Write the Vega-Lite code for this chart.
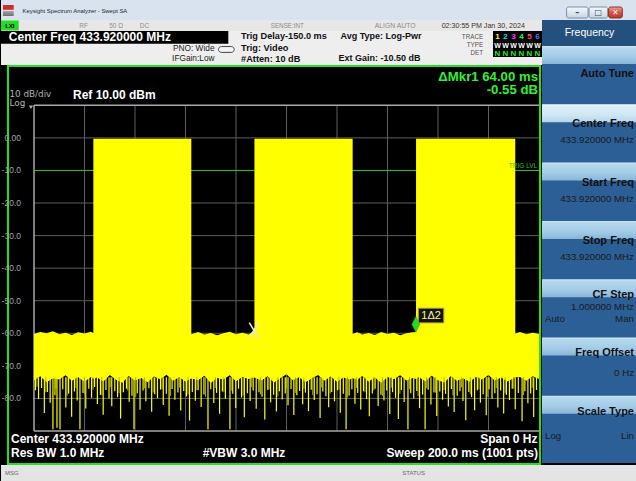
{
  "$schema": "https://vega.github.io/schema/vega-lite/v6.json",
  "padding": 0,
  "background": "#000000",
  "spacing": 0,
  "config": {"view": {"stroke": null}, "font": "Liberation Sans"},
  "datasets": {
    "env": [
      {"t":0,"top":-60.2,"bot":-74.5},{"t":2.5,"top":-59.6,"bot":-73.2},{"t":5,"top":-60.0,"bot":-75.0},{"t":7.5,"top":-59.4,"bot":-73.8},
      {"t":10,"top":-60.3,"bot":-74.2},{"t":12.5,"top":-59.8,"bot":-72.9},{"t":15,"top":-60.5,"bot":-74.6},{"t":17.5,"top":-59.7,"bot":-73.5},
      {"t":20,"top":-60.1,"bot":-74.9},{"t":22.5,"top":-59.5,"bot":-73.4},{"t":23.5,"top":-59.9,"bot":-74.0},{"t":23.51,"top":-0.3,"bot":-74.0},
      {"t":25,"top":-0.3,"bot":-73.6},{"t":27.5,"top":-0.3,"bot":-74.8},{"t":30,"top":-0.3,"bot":-72.8},{"t":32.5,"top":-0.3,"bot":-74.3},
      {"t":35,"top":-0.3,"bot":-75.2},{"t":37.5,"top":-0.3,"bot":-73.1},{"t":40,"top":-0.3,"bot":-74.5},{"t":42.5,"top":-0.3,"bot":-73.7},
      {"t":45,"top":-0.3,"bot":-75.0},{"t":47.5,"top":-0.3,"bot":-73.3},{"t":50,"top":-0.3,"bot":-74.1},{"t":52.5,"top":-0.3,"bot":-72.7},
      {"t":55,"top":-0.3,"bot":-74.6},{"t":57.5,"top":-0.3,"bot":-73.5},{"t":60,"top":-0.3,"bot":-74.8},{"t":62.3,"top":-0.3,"bot":-73.9},
      {"t":62.31,"top":-60.3,"bot":-73.9},{"t":65,"top":-59.6,"bot":-74.4},{"t":67.5,"top":-60.4,"bot":-73.0},{"t":70,"top":-59.9,"bot":-75.3},
      {"t":72.5,"top":-60.6,"bot":-73.7},{"t":75,"top":-60.0,"bot":-74.2},{"t":77.5,"top":-59.5,"bot":-72.9},{"t":80,"top":-60.3,"bot":-74.7},
      {"t":82.5,"top":-59.8,"bot":-73.4},{"t":85,"top":-60.4,"bot":-74.0},{"t":87.3,"top":-59.2,"bot":-73.6},{"t":87.31,"top":-0.3,"bot":-73.6},
      {"t":90,"top":-0.3,"bot":-74.5},{"t":92.5,"top":-0.3,"bot":-73.2},{"t":95,"top":-0.3,"bot":-75.1},{"t":97.5,"top":-0.3,"bot":-73.8},
      {"t":100,"top":-0.3,"bot":-72.6},{"t":102.5,"top":-0.3,"bot":-74.4},{"t":105,"top":-0.3,"bot":-73.5},{"t":107.5,"top":-0.3,"bot":-75.0},
      {"t":110,"top":-0.3,"bot":-73.9},{"t":112.5,"top":-0.3,"bot":-72.8},{"t":115,"top":-0.3,"bot":-74.6},{"t":117.5,"top":-0.3,"bot":-73.3},
      {"t":120,"top":-0.3,"bot":-74.9},{"t":122.5,"top":-0.3,"bot":-73.6},{"t":125,"top":-0.3,"bot":-74.2},{"t":126.2,"top":-0.3,"bot":-73.8},
      {"t":126.21,"top":-60.2,"bot":-73.8},{"t":128,"top":-59.7,"bot":-74.3},{"t":130,"top":-60.4,"bot":-73.1},{"t":132.5,"top":-59.9,"bot":-74.8},
      {"t":135,"top":-60.5,"bot":-73.6},{"t":137.5,"top":-59.6,"bot":-75.2},{"t":140,"top":-60.2,"bot":-73.4},{"t":142.5,"top":-59.8,"bot":-74.1},
      {"t":145,"top":-60.6,"bot":-72.9},{"t":147.5,"top":-60.0,"bot":-74.5},{"t":150,"top":-59.7,"bot":-73.7},{"t":151.3,"top":-59.6,"bot":-74.0},
      {"t":151.31,"top":-0.3,"bot":-74.0},{"t":152.5,"top":-0.3,"bot":-73.5},{"t":155,"top":-0.3,"bot":-74.7},{"t":157.5,"top":-0.3,"bot":-73.0},
      {"t":160,"top":-0.3,"bot":-74.4},{"t":162.5,"top":-0.3,"bot":-75.1},{"t":165,"top":-0.3,"bot":-73.2},{"t":167.5,"top":-0.3,"bot":-74.6},
      {"t":170,"top":-0.3,"bot":-73.8},{"t":172.5,"top":-0.3,"bot":-74.9},{"t":175,"top":-0.3,"bot":-73.4},{"t":177.5,"top":-0.3,"bot":-74.2},
      {"t":180,"top":-0.3,"bot":-72.8},{"t":182.5,"top":-0.3,"bot":-74.5},{"t":185,"top":-0.3,"bot":-73.6},{"t":187.5,"top":-0.3,"bot":-74.8},
      {"t":190.6,"top":-0.3,"bot":-73.5},{"t":190.61,"top":-60.1,"bot":-73.5},{"t":192.5,"top":-59.6,"bot":-73.4},{"t":195,"top":-60.3,"bot":-74.6},
      {"t":197.5,"top":-59.8,"bot":-73.2},{"t":200,"top":-60.2,"bot":-74.0}
    ],
    "spikes": [
      {"t":0.6,"lo":-77.5},{"t":1.8,"lo":-80.2},{"t":3.0,"lo":-76.8},{"t":4.1,"lo":-84.5},{"t":5.3,"lo":-78.0},{"t":6.4,"lo":-81.3},
      {"t":7.5,"lo":-89.5},{"t":8.3,"lo":-79.0},{"t":9.1,"lo":-89.0},{"t":10.3,"lo":-89.5},{"t":11.4,"lo":-77.2},{"t":12.6,"lo":-82.8},
      {"t":13.7,"lo":-78.5},{"t":14.9,"lo":-85.6},{"t":16.0,"lo":-77.9},{"t":17.1,"lo":-80.6},{"t":18.2,"lo":-89.5},{"t":19.4,"lo":-78.3},
      {"t":20.5,"lo":-83.1},{"t":21.7,"lo":-77.0},{"t":22.8,"lo":-79.8},{"t":24.0,"lo":-76.5},{"t":25.1,"lo":-81.7},{"t":26.3,"lo":-78.9},
      {"t":27.4,"lo":-85.0},{"t":28.5,"lo":-77.4},{"t":29.7,"lo":-80.0},{"t":30.8,"lo":-82.4},{"t":32.0,"lo":-77.8},{"t":33.1,"lo":-79.6},
      {"t":34.3,"lo":-86.2},{"t":35.4,"lo":-78.1},{"t":36.6,"lo":-77.0},{"t":37.7,"lo":-81.0},{"t":38.8,"lo":-79.2},{"t":39.6,"lo":-89.5},
      {"t":40.9,"lo":-78.4},{"t":42.0,"lo":-83.5},{"t":43.2,"lo":-77.6},{"t":44.3,"lo":-80.9},{"t":45.5,"lo":-76.9},{"t":46.6,"lo":-84.1},
      {"t":47.8,"lo":-78.7},{"t":48.9,"lo":-79.9},{"t":50.1,"lo":-77.3},{"t":51.2,"lo":-82.0},{"t":52.4,"lo":-78.6},{"t":53.5,"lo":-85.3},
      {"t":54.7,"lo":-77.1},{"t":55.8,"lo":-80.4},{"t":57.0,"lo":-78.2},{"t":58.1,"lo":-83.7},{"t":59.3,"lo":-77.7},{"t":60.4,"lo":-79.4},
      {"t":61.6,"lo":-86.8},{"t":62.7,"lo":-78.0},{"t":63.9,"lo":-80.7},{"t":65.0,"lo":-77.5},{"t":66.2,"lo":-82.6},{"t":67.3,"lo":-78.8},
      {"t":68.9,"lo":-89.5},{"t":70.0,"lo":-77.2},{"t":71.2,"lo":-81.4},{"t":72.3,"lo":-78.3},{"t":73.5,"lo":-84.7},{"t":74.6,"lo":-77.9},
      {"t":75.8,"lo":-80.1},{"t":77.6,"lo":-89.5},{"t":78.7,"lo":-78.6},{"t":79.9,"lo":-82.9},{"t":81.0,"lo":-77.0},{"t":82.2,"lo":-79.7},
      {"t":83.3,"lo":-85.8},{"t":84.5,"lo":-78.4},{"t":85.6,"lo":-80.8},{"t":86.8,"lo":-77.6},{"t":88.0,"lo":-83.2},{"t":89.1,"lo":-78.1},
      {"t":90.3,"lo":-79.5},{"t":91.4,"lo":-86.5},{"t":92.6,"lo":-77.4},{"t":93.7,"lo":-81.2},{"t":94.9,"lo":-78.9},{"t":96.0,"lo":-84.0},
      {"t":97.2,"lo":-77.8},{"t":98.3,"lo":-80.3},{"t":99.5,"lo":-78.5},{"t":100.6,"lo":-82.1},{"t":101.8,"lo":-77.1},{"t":102.9,"lo":-85.1},
      {"t":104.1,"lo":-79.0},{"t":105.2,"lo":-77.7},{"t":106.4,"lo":-81.8},{"t":107.5,"lo":-78.2},{"t":108.7,"lo":-83.9},{"t":109.8,"lo":-77.3},
      {"t":111.0,"lo":-80.5},{"t":112.1,"lo":-78.7},{"t":113.3,"lo":-86.0},{"t":114.4,"lo":-77.9},{"t":115.6,"lo":-79.3},{"t":116.7,"lo":-82.7},
      {"t":117.9,"lo":-78.0},{"t":119.0,"lo":-80.9},{"t":120.2,"lo":-77.5},{"t":121.3,"lo":-84.4},{"t":122.5,"lo":-78.6},{"t":123.6,"lo":-89.5},
      {"t":124.8,"lo":-79.1},{"t":125.9,"lo":-77.2},{"t":127.1,"lo":-81.6},{"t":128.2,"lo":-78.3},{"t":129.4,"lo":-83.4},{"t":130.5,"lo":-77.8},
      {"t":131.7,"lo":-80.2},{"t":132.8,"lo":-85.5},{"t":134.0,"lo":-78.5},{"t":135.1,"lo":-77.0},{"t":136.3,"lo":-82.3},{"t":137.4,"lo":-78.9},
      {"t":138.6,"lo":-80.6},{"t":139.7,"lo":-77.6},{"t":140.9,"lo":-84.8},{"t":142.0,"lo":-78.1},{"t":143.2,"lo":-79.8},{"t":144.3,"lo":-86.3},
      {"t":145.5,"lo":-77.4},{"t":146.6,"lo":-81.1},{"t":148.1,"lo":-89.5},{"t":149.2,"lo":-78.4},{"t":150.4,"lo":-80.0},{"t":151.6,"lo":-77.7},
      {"t":152.7,"lo":-83.0},{"t":153.9,"lo":-78.8},{"t":154.9,"lo":-89.5},{"t":156.1,"lo":-77.3},{"t":157.2,"lo":-81.9},{"t":158.4,"lo":-78.2},
      {"t":159.5,"lo":-85.4},{"t":160.7,"lo":-77.9},{"t":161.8,"lo":-80.4},{"t":163.0,"lo":-78.6},{"t":164.1,"lo":-82.5},{"t":165.3,"lo":-77.1},
      {"t":166.4,"lo":-84.2},{"t":167.6,"lo":-79.2},{"t":168.7,"lo":-77.8},{"t":169.9,"lo":-80.8},{"t":171.0,"lo":-86.7},{"t":172.2,"lo":-78.0},
      {"t":173.3,"lo":-79.6},{"t":174.5,"lo":-83.6},{"t":175.6,"lo":-77.5},{"t":176.8,"lo":-81.3},{"t":177.9,"lo":-78.7},{"t":179.1,"lo":-85.2},
      {"t":180.2,"lo":-77.2},{"t":181.4,"lo":-80.1},{"t":182.5,"lo":-78.4},{"t":183.7,"lo":-82.8},{"t":184.8,"lo":-77.6},{"t":186.0,"lo":-84.6},
      {"t":187.1,"lo":-78.9},{"t":188.3,"lo":-80.5},{"t":189.4,"lo":-77.0},{"t":190.6,"lo":-83.3},{"t":191.8,"lo":-78.3},{"t":193.3,"lo":-87.0},
      {"t":194.4,"lo":-77.8},{"t":195.6,"lo":-81.5},{"t":196.7,"lo":-78.5},{"t":197.9,"lo":-85.7},{"t":199.0,"lo":-77.4}
    ],
    "dimSpikes": [
      {"t":1.2,"lo":-76.4},{"t":4.7,"lo":-78.1},{"t":8.7,"lo":-77.0},{"t":13.1,"lo":-79.3},{"t":16.6,"lo":-76.8},{"t":20.0,"lo":-78.6},
      {"t":23.4,"lo":-77.3},{"t":26.9,"lo":-79.0},{"t":30.2,"lo":-76.6},{"t":33.7,"lo":-78.4},{"t":37.1,"lo":-77.5},{"t":40.3,"lo":-79.6},
      {"t":43.8,"lo":-76.9},{"t":47.2,"lo":-78.2},{"t":50.7,"lo":-77.1},{"t":54.1,"lo":-79.2},{"t":57.6,"lo":-76.7},{"t":61.0,"lo":-78.8},
      {"t":64.5,"lo":-77.4},{"t":67.9,"lo":-79.5},{"t":71.8,"lo":-76.8},{"t":75.2,"lo":-78.0},{"t":78.1,"lo":-77.6},{"t":82.8,"lo":-79.1},
      {"t":86.2,"lo":-76.5},{"t":89.7,"lo":-78.7},{"t":93.1,"lo":-77.2},{"t":96.6,"lo":-79.4},{"t":100.0,"lo":-76.9},{"t":103.5,"lo":-78.3},
      {"t":106.9,"lo":-77.0},{"t":110.4,"lo":-79.0},{"t":113.9,"lo":-76.6},{"t":117.3,"lo":-78.5},{"t":120.8,"lo":-77.3},{"t":124.2,"lo":-79.7},
      {"t":127.7,"lo":-76.8},{"t":131.1,"lo":-78.1},{"t":134.6,"lo":-77.5},{"t":138.0,"lo":-79.2},{"t":141.5,"lo":-76.7},{"t":144.9,"lo":-78.6},
      {"t":148.7,"lo":-77.1},{"t":152.1,"lo":-79.3},{"t":155.5,"lo":-76.9},{"t":159.0,"lo":-78.2},{"t":162.4,"lo":-77.4},{"t":165.9,"lo":-79.1},
      {"t":169.3,"lo":-76.6},{"t":172.8,"lo":-78.7},{"t":176.2,"lo":-77.2},{"t":179.7,"lo":-79.5},{"t":183.1,"lo":-76.8},{"t":186.6,"lo":-78.4},
      {"t":190.0,"lo":-77.0},{"t":193.9,"lo":-79.0},{"t":197.3,"lo":-76.7}
    ],
    "gx": [{"t":20},{"t":40},{"t":60},{"t":80},{"t":100},{"t":120},{"t":140},{"t":160},{"t":180}],
    "gy": [{"v":0,"label":"0.00"},{"v":-10,"label":"-10.0"},{"v":-20,"label":"-20.0"},{"v":-30,"label":"-30.0"},{"v":-40,"label":"-40.0"},{"v":-50,"label":"-50.0"},{"v":-60,"label":"-60.0"},{"v":-70,"label":"-70.0"},{"v":-80,"label":"-80.0"}],
    "markers": [{"mkr":"2","t":87.1,"v":-59.1},{"mkr":"1","t":151.2,"v":-59.65}],
    "traces": [{"tr":"1"},{"tr":"2"},{"tr":"3"},{"tr":"4"},{"tr":"5"},{"tr":"6"}],
    "keys": [{"key":"Auto Tune"},{"key":"Center Freq"},{"key":"Start Freq"},{"key":"Stop Freq"},{"key":"CF Step"},{"key":"Freq Offset"},{"key":"Scale Type"}],
    "menuText": [
      {"key":"Auto Tune","line":"7","side":"right","kind":"title","txt":"Auto Tune"},
      {"key":"Center Freq","line":"5","side":"right","kind":"title","txt":"Center Freq"},
      {"key":"Center Freq","line":"9","side":"right","kind":"value","txt":"433.920000 MHz"},
      {"key":"Start Freq","line":"5","side":"right","kind":"title","txt":"Start Freq"},
      {"key":"Start Freq","line":"9","side":"right","kind":"value","txt":"433.920000 MHz"},
      {"key":"Stop Freq","line":"5","side":"right","kind":"title","txt":"Stop Freq"},
      {"key":"Stop Freq","line":"9","side":"right","kind":"value","txt":"433.920000 MHz"},
      {"key":"CF Step","line":"4","side":"right","kind":"title","txt":"CF Step"},
      {"key":"CF Step","line":"7","side":"right","kind":"value","txt":"1.000000 MHz"},
      {"key":"CF Step","line":"10","side":"left","kind":"value","txt":"Auto"},
      {"key":"CF Step","line":"10","side":"right","kind":"value","txt":"Man"},
      {"key":"Freq Offset","line":"4","side":"right","kind":"title","txt":"Freq Offset"},
      {"key":"Freq Offset","line":"9","side":"right","kind":"value","txt":"0 Hz"},
      {"key":"Scale Type","line":"4","side":"right","kind":"title","txt":"Scale Type"},
      {"key":"Scale Type","line":"10","side":"left","kind":"value","txt":"Log"},
      {"key":"Scale Type","line":"10","side":"right","kind":"value","txt":"Lin"}
    ]
  },
  "vconcat": [
    {
      "width": 636, "height": 20,
      "view": {"fill": "#d8e3ef"},
      "data": {"values": [{}]},
      "layer": [
        {"mark": {"type": "rect", "fill": {"gradient": "linear", "x1": 0, "y1": 0, "x2": 0, "y2": 1, "stops": [{"offset": 0, "color": "#c9302c"}, {"offset": 0.4, "color": "#c9302c"}, {"offset": 0.45, "color": "#ffffff"}, {"offset": 0.6, "color": "#a0a0a0"}, {"offset": 1, "color": "#707070"}]}},
         "encoding": {"x": {"datum": 2, "type": "quantitative", "scale": {"domain": [0, 636]}, "axis": null}, "x2": {"datum": 13},
                      "y": {"datum": 5, "type": "quantitative", "scale": {"domain": [0, 20], "reverse": true}, "axis": null}, "y2": {"datum": 16}}},
        {"mark": {"type": "text", "align": "left", "baseline": "middle", "fontSize": 5.9, "color": "#1e1e1e"},
         "encoding": {"x": {"datum": 22, "type": "quantitative", "axis": null}, "y": {"datum": 10.5, "type": "quantitative", "axis": null}, "text": {"value": "Keysight Spectrum Analyzer - Swept SA"}}},
        {"mark": {"type": "rect", "cornerRadius": 2, "stroke": "#7b8ca3", "strokeWidth": 1, "fill": {"gradient": "linear", "x1": 0, "y1": 0, "x2": 0, "y2": 1, "stops": [{"offset": 0, "color": "#f5f8fb"}, {"offset": 1, "color": "#c9d5e3"}]}},
         "encoding": {"x": {"datum": 578, "type": "quantitative", "axis": null}, "x2": {"datum": 600}, "y": {"datum": 7, "type": "quantitative", "axis": null}, "y2": {"datum": 18}}},
        {"mark": {"type": "rect", "cornerRadius": 2, "stroke": "#7b8ca3", "strokeWidth": 1, "fill": {"gradient": "linear", "x1": 0, "y1": 0, "x2": 0, "y2": 1, "stops": [{"offset": 0, "color": "#f5f8fb"}, {"offset": 1, "color": "#c9d5e3"}]}},
         "encoding": {"x": {"datum": 601, "type": "quantitative", "axis": null}, "x2": {"datum": 620}, "y": {"datum": 7, "type": "quantitative", "axis": null}, "y2": {"datum": 18}}},
        {"mark": {"type": "rect", "cornerRadius": 2, "stroke": "#8c2e26", "strokeWidth": 1, "fill": {"gradient": "linear", "x1": 0, "y1": 0, "x2": 0, "y2": 1, "stops": [{"offset": 0, "color": "#e9a397"}, {"offset": 0.5, "color": "#d0574a"}, {"offset": 1, "color": "#b8382c"}]}},
         "encoding": {"x": {"datum": 621, "type": "quantitative", "axis": null}, "x2": {"datum": 635}, "y": {"datum": 7, "type": "quantitative", "axis": null}, "y2": {"datum": 18}}},
        {"mark": {"type": "text", "align": "center", "baseline": "middle", "fontSize": 8, "font": "DejaVu Sans", "fontWeight": "bold", "color": "#3a4a5e"},
         "encoding": {"x": {"datum": 589, "type": "quantitative", "axis": null}, "y": {"datum": 13, "type": "quantitative", "axis": null}, "text": {"value": "–"}}},
        {"mark": {"type": "text", "align": "center", "baseline": "middle", "fontSize": 8, "font": "DejaVu Sans", "color": "#3a4a5e"},
         "encoding": {"x": {"datum": 610.5, "type": "quantitative", "axis": null}, "y": {"datum": 12.5, "type": "quantitative", "axis": null}, "text": {"value": "□"}}},
        {"mark": {"type": "text", "align": "center", "baseline": "middle", "fontSize": 7.5, "font": "DejaVu Sans", "fontWeight": "bold", "color": "#ffffff"},
         "encoding": {"x": {"datum": 628, "type": "quantitative", "axis": null}, "y": {"datum": 12.5, "type": "quantitative", "axis": null}, "text": {"value": "✕"}}}
      ]
    },
    {
      "spacing": 0,
      "hconcat": [
        {
          "spacing": 0,
          "vconcat": [
            {
              "width": 541, "height": 11,
              "view": {"fill": "#e7e7e7"},
              "data": {"values": [{}]},
              "layer": [
                {"mark": {"type": "rect", "fill": "#22dd22"},
                 "encoding": {"x": {"datum": 0, "type": "quantitative", "scale": {"domain": [0, 541]},
                                    "axis": {"values": [58, 108, 160, 210, 310, 362, 445], "grid": true, "gridColor": "#b5b5b5", "gridWidth": 1, "labels": false, "ticks": false, "domain": false, "title": null}},
                              "x2": {"datum": 18},
                              "y": {"datum": 0.5, "type": "quantitative", "scale": {"domain": [0, 11], "reverse": true}, "axis": null}, "y2": {"datum": 10.5}}},
                {"mark": {"type": "text", "align": "center", "baseline": "middle", "fontSize": 6, "fontWeight": "bold", "color": "#000000"},
                 "encoding": {"x": {"datum": 9, "type": "quantitative", "axis": null}, "y": {"datum": 5.5, "type": "quantitative", "axis": null}, "text": {"value": "LXI"}}},
                {"mark": {"type": "text", "align": "center", "baseline": "middle", "fontSize": 6.5, "color": "#8c8c8c"},
                 "encoding": {"x": {"datum": 84, "type": "quantitative", "axis": null}, "y": {"datum": 5.5, "type": "quantitative", "axis": null}, "text": {"value": "RF"}}},
                {"mark": {"type": "text", "align": "left", "baseline": "middle", "fontSize": 6.5, "color": "#8c8c8c"},
                 "encoding": {"x": {"datum": 110, "type": "quantitative", "axis": null}, "y": {"datum": 5.5, "type": "quantitative", "axis": null}, "text": {"value": "50 Ω"}}},
                {"mark": {"type": "text", "align": "left", "baseline": "middle", "fontSize": 6.5, "color": "#8c8c8c"},
                 "encoding": {"x": {"datum": 141, "type": "quantitative", "axis": null}, "y": {"datum": 5.5, "type": "quantitative", "axis": null}, "text": {"value": "DC"}}},
                {"mark": {"type": "text", "align": "right", "baseline": "middle", "fontSize": 6.3, "color": "#8c8c8c"},
                 "encoding": {"x": {"datum": 308, "type": "quantitative", "axis": null}, "y": {"datum": 5.5, "type": "quantitative", "axis": null}, "text": {"value": "SENSE:INT"}}},
                {"mark": {"type": "text", "align": "left", "baseline": "middle", "fontSize": 6.8, "color": "#8c8c8c"},
                 "encoding": {"x": {"datum": 380, "type": "quantitative", "axis": null}, "y": {"datum": 5.5, "type": "quantitative", "axis": null}, "text": {"value": "ALIGN AUTO"}}},
                {"mark": {"type": "text", "align": "left", "baseline": "middle", "fontSize": 7.1, "color": "#333333"},
                 "encoding": {"x": {"datum": 448, "type": "quantitative", "axis": null}, "y": {"datum": 5.5, "type": "quantitative", "axis": null}, "text": {"value": "02:30:55 PM Jan 30, 2024"}}}
              ]
            },
            {
              "spacing": 0,
              "hconcat": [
                {
                  "width": 492, "height": 34,
                  "view": {"fill": "#eeeeee"},
                  "data": {"values": [{}]},
                  "layer": [
                    {"mark": {"type": "rect", "fill": "#000000"},
                     "encoding": {"x": {"datum": 0, "type": "quantitative", "scale": {"domain": [0, 492]}, "axis": null}, "x2": {"datum": 231},
                                  "y": {"datum": 0, "type": "quantitative", "scale": {"domain": [0, 34], "reverse": true}, "axis": null}, "y2": {"datum": 13}}},
                    {"mark": {"type": "text", "align": "left", "baseline": "middle", "fontSize": 12, "fontWeight": "bold", "color": "#ffffff"},
                     "encoding": {"x": {"datum": 8, "type": "quantitative", "axis": null}, "y": {"datum": 6.5, "type": "quantitative", "axis": null}, "text": {"value": "Center Freq 433.920000 MHz"}}},
                    {"mark": {"type": "text", "align": "right", "baseline": "middle", "fontSize": 8.3, "color": "#1a1a1a"},
                     "encoding": {"x": {"datum": 217, "type": "quantitative", "axis": null}, "y": {"datum": 19, "type": "quantitative", "axis": null}, "text": {"value": "PNO: Wide"}}},
                    {"mark": {"type": "text", "align": "right", "baseline": "middle", "fontSize": 8.3, "color": "#1a1a1a"},
                     "encoding": {"x": {"datum": 217, "type": "quantitative", "axis": null}, "y": {"datum": 29, "type": "quantitative", "axis": null}, "text": {"value": "IFGain:Low"}}},
                    {"mark": {"type": "rect", "fill": "#f4f4f4", "stroke": "#444444", "strokeWidth": 1, "cornerRadius": 3},
                     "encoding": {"x": {"datum": 221, "type": "quantitative", "axis": null}, "x2": {"datum": 237}, "y": {"datum": 16, "type": "quantitative", "axis": null}, "y2": {"datum": 22}}},
                    {"mark": {"type": "text", "align": "left", "baseline": "middle", "fontSize": 9.2, "fontWeight": "bold", "color": "#111111"},
                     "encoding": {"x": {"datum": 244, "type": "quantitative", "axis": null}, "y": {"datum": 5, "type": "quantitative", "axis": null}, "text": {"value": "Trig Delay-150.0 ms"}}},
                    {"mark": {"type": "text", "align": "left", "baseline": "middle", "fontSize": 9.2, "fontWeight": "bold", "color": "#111111"},
                     "encoding": {"x": {"datum": 244, "type": "quantitative", "axis": null}, "y": {"datum": 17, "type": "quantitative", "axis": null}, "text": {"value": "Trig: Video"}}},
                    {"mark": {"type": "text", "align": "left", "baseline": "middle", "fontSize": 9.2, "fontWeight": "bold", "color": "#111111"},
                     "encoding": {"x": {"datum": 244, "type": "quantitative", "axis": null}, "y": {"datum": 28.5, "type": "quantitative", "axis": null}, "text": {"value": "#Atten: 10 dB"}}},
                    {"mark": {"type": "text", "align": "left", "baseline": "middle", "fontSize": 9, "fontWeight": "bold", "color": "#111111"},
                     "encoding": {"x": {"datum": 345, "type": "quantitative", "axis": null}, "y": {"datum": 5, "type": "quantitative", "axis": null}, "text": {"value": "Avg Type: Log-Pwr"}}},
                    {"mark": {"type": "text", "align": "left", "baseline": "middle", "fontSize": 9, "fontWeight": "bold", "color": "#111111"},
                     "encoding": {"x": {"datum": 343, "type": "quantitative", "axis": null}, "y": {"datum": 28, "type": "quantitative", "axis": null}, "text": {"value": "Ext Gain: -10.50 dB"}}},
                    {"mark": {"type": "text", "align": "right", "baseline": "middle", "fontSize": 6.3, "color": "#555555"},
                     "encoding": {"x": {"datum": 490, "type": "quantitative", "axis": null}, "y": {"datum": 6, "type": "quantitative", "axis": null}, "text": {"value": "TRACE"}}},
                    {"mark": {"type": "text", "align": "right", "baseline": "middle", "fontSize": 6.3, "color": "#555555"},
                     "encoding": {"x": {"datum": 490, "type": "quantitative", "axis": null}, "y": {"datum": 14.5, "type": "quantitative", "axis": null}, "text": {"value": "TYPE"}}},
                    {"mark": {"type": "text", "align": "right", "baseline": "middle", "fontSize": 6.3, "color": "#555555"},
                     "encoding": {"x": {"datum": 490, "type": "quantitative", "axis": null}, "y": {"datum": 23, "type": "quantitative", "axis": null}, "text": {"value": "DET"}}}
                  ]
                },
                {
                  "spacing": 0,
                  "bounds": "flush",
                  "vconcat": [
                    {
                      "width": 49, "height": 26,
                      "view": {"fill": "#000000"},
                      "data": {"name": "traces"},
                      "layer": [
                        {"mark": {"type": "text", "align": "center", "baseline": "middle", "fontSize": 8, "fontWeight": "bold"},
                         "encoding": {"x": {"field": "tr", "type": "nominal", "scale": {"type": "point", "padding": 0.5625}, "axis": null},
                                      "y": {"datum": "TRACE", "type": "nominal", "scale": {"type": "point", "domain": ["TRACE", "TYPE", "DET"], "padding": 0.529, "align": 0.667}, "axis": null},
                                      "color": {"field": "tr", "type": "nominal", "scale": {"domain": ["1", "2", "3", "4", "5", "6"], "range": ["#ffff00", "#00e5ff", "#ff33ff", "#33ff33", "#ff4f7f", "#6a6aff"]}, "legend": null},
                                      "text": {"field": "tr"}}},
                        {"mark": {"type": "text", "align": "center", "baseline": "middle", "fontSize": 7, "fontWeight": "bold", "color": "#ffffff"},
                         "encoding": {"x": {"field": "tr", "type": "nominal", "axis": null}, "y": {"datum": "TYPE", "type": "nominal", "axis": null}, "text": {"value": "W"}}},
                        {"mark": {"type": "text", "align": "center", "baseline": "middle", "fontSize": 8, "fontWeight": "bold", "color": "#22ee22"},
                         "encoding": {"x": {"field": "tr", "type": "nominal", "axis": null}, "y": {"datum": "DET", "type": "nominal", "axis": null}, "text": {"value": "N"}}}
                      ]
                    },
                    {
                      "width": 49, "height": 8,
                      "view": {"fill": "#eeeeee"},
                      "data": {"values": [{}]},
                      "mark": {"type": "rect", "opacity": 0},
                      "encoding": {}
                    }
                  ]
                }
              ]
            },
            {
              "spacing": 0,
              "bounds": "flush",
              "hconcat": [
                {
                  "width": 7, "height": 398,
                  "data": {"values": [{}]},
                  "mark": {"type": "rect", "opacity": 0},
                  "encoding": {}
                },
                {
                  "width": 532, "height": 398,
                  "view": {"fill": "#000000", "stroke": "#22e022", "strokeWidth": 2},
                  "data": {"values": [{}]},
                  "layer": [
                    {"data": {"name": "gx"}, "mark": {"type": "rule", "color": "#5e5e5e", "strokeWidth": 1},
                     "encoding": {"x": {"field": "t", "type": "quantitative", "scale": {"domain": [0, 200], "range": [26, 531], "nice": false, "zero": false}, "axis": null},
                                  "y": {"datum": -90, "type": "quantitative", "scale": {"domain": [-90, 10], "range": [365, 39.3], "nice": false, "zero": false}, "axis": null}, "y2": {"datum": 10}}},
                    {"data": {"name": "gy"}, "mark": {"type": "rule", "color": "#5e5e5e", "strokeWidth": 1},
                     "encoding": {"y": {"field": "v", "type": "quantitative", "axis": null},
                                  "x": {"datum": 0, "type": "quantitative", "axis": null}, "x2": {"datum": 200}}},
                    {"data": {"name": "gy"}, "mark": {"type": "text", "align": "right", "baseline": "middle", "fontSize": 8.5, "color": "#a6a6a6"},
                     "encoding": {"y": {"field": "v", "type": "quantitative", "axis": null},
                                  "x": {"datum": -5.15, "type": "quantitative", "axis": null}, "text": {"field": "label"}}},
                    {"mark": {"type": "rule", "color": "#a9a9a9", "strokeWidth": 1.5},
                     "encoding": {"x": {"datum": 0, "type": "quantitative", "axis": null}, "x2": {"datum": 200}, "y": {"datum": 10, "type": "quantitative", "axis": null}}},
                    {"mark": {"type": "rule", "color": "#a9a9a9", "strokeWidth": 1.5},
                     "encoding": {"x": {"datum": 0, "type": "quantitative", "axis": null}, "x2": {"datum": 200}, "y": {"datum": -90, "type": "quantitative", "axis": null}}},
                    {"mark": {"type": "rule", "color": "#a9a9a9", "strokeWidth": 1.5},
                     "encoding": {"x": {"datum": 0, "type": "quantitative", "axis": null}, "y": {"datum": -90, "type": "quantitative", "axis": null}, "y2": {"datum": 10}}},
                    {"mark": {"type": "rule", "color": "#2fbf2f", "strokeWidth": 1},
                     "encoding": {"x": {"datum": 0, "type": "quantitative", "axis": null}, "x2": {"datum": 200}, "y": {"datum": -10, "type": "quantitative", "axis": null}}},
                    {"data": {"name": "env"}, "mark": {"type": "area", "color": "#ffff00", "opacity": 1, "interpolate": "linear"},
                     "encoding": {"x": {"field": "t", "type": "quantitative", "axis": null}, "y": {"field": "top", "type": "quantitative", "axis": null}, "y2": {"field": "bot"}}},
                    {"data": {"name": "dimSpikes"}, "mark": {"type": "rule", "color": "#a8a82c", "strokeWidth": 1},
                     "encoding": {"x": {"field": "t", "type": "quantitative", "axis": null}, "y": {"field": "lo", "type": "quantitative", "axis": null}, "y2": {"datum": -73.5}}},
                    {"data": {"name": "spikes"}, "mark": {"type": "rule", "color": "#ffff00", "strokeWidth": 1.2},
                     "encoding": {"x": {"field": "t", "type": "quantitative", "axis": null}, "y": {"field": "lo", "type": "quantitative", "axis": null}, "y2": {"datum": -73.5}}},
                    {"data": {"name": "markers"}, "transform": [{"filter": "datum.mkr == '2'"}],
                     "mark": {"type": "point", "shape": "M-0.6,-1L0.6,1M0.6,-1L-0.6,1", "size": 243, "filled": false, "stroke": "#e6e6e6", "strokeWidth": 1.6, "opacity": 1},
                     "encoding": {"x": {"field": "t", "type": "quantitative", "axis": null}, "y": {"field": "v", "type": "quantitative", "axis": null}}},
                    {"data": {"name": "markers"}, "transform": [{"filter": "datum.mkr == '1'"}],
                     "mark": {"type": "point", "shape": "M0,0L-0.5,-1L0,-2L0.5,-1Z", "size": 246, "filled": true, "fill": "#22dd22", "stroke": "#129a12", "strokeWidth": 0.5, "opacity": 1},
                     "encoding": {"x": {"field": "t", "type": "quantitative", "axis": null}, "y": {"field": "v", "type": "quantitative", "axis": null}}},
                    {"mark": {"type": "rect", "fill": "#161600", "stroke": "#a59b5c", "strokeWidth": 1},
                     "encoding": {"x": {"datum": 152.2, "type": "quantitative", "axis": null}, "x2": {"datum": 162.3}, "y": {"datum": -52.3, "type": "quantitative", "axis": null}, "y2": {"datum": -56.8}}},
                    {"mark": {"type": "text", "align": "center", "baseline": "middle", "fontSize": 11, "color": "#f4f0c0"},
                     "encoding": {"x": {"datum": 157.25, "type": "quantitative", "axis": null}, "y": {"datum": -54.55, "type": "quantitative", "axis": null}, "text": {"value": "1Δ2"}}},
                    {"mark": {"type": "point", "shape": "triangle-down", "size": 18, "filled": true, "color": "#b0b0b0", "opacity": 1},
                     "encoding": {"x": {"datum": -1.2, "type": "quantitative", "axis": null}, "y": {"datum": 9.4, "type": "quantitative", "axis": null}}},
                    {"mark": {"type": "text", "align": "left", "baseline": "middle", "fontSize": 8.8, "font": "DejaVu Sans", "color": "#b4b4b4"},
                     "encoding": {"x": {"datum": -9.7, "type": "quantitative", "axis": null}, "y": {"datum": 13.35, "type": "quantitative", "axis": null}, "text": {"value": "10 dB/div"}}},
                    {"mark": {"type": "text", "align": "left", "baseline": "middle", "fontSize": 8.8, "font": "DejaVu Sans", "color": "#b4b4b4"},
                     "encoding": {"x": {"datum": -9.7, "type": "quantitative", "axis": null}, "y": {"datum": 10.7, "type": "quantitative", "axis": null}, "text": {"value": "Log"}}},
                    {"mark": {"type": "text", "align": "left", "baseline": "middle", "fontSize": 12, "fontWeight": "bold", "color": "#ffffff"},
                     "encoding": {"x": {"datum": 15.45, "type": "quantitative", "axis": null}, "y": {"datum": 13.3, "type": "quantitative", "axis": null}, "text": {"value": "Ref 10.00 dBm"}}},
                    {"mark": {"type": "text", "align": "right", "baseline": "middle", "fontSize": 13.2, "fontWeight": "bold", "color": "#33f033"},
                     "encoding": {"x": {"datum": 199.6, "type": "quantitative", "axis": null}, "y": {"datum": 18.8, "type": "quantitative", "axis": null}, "text": {"value": "ΔMkr1 64.00 ms"}}},
                    {"mark": {"type": "text", "align": "right", "baseline": "middle", "fontSize": 13.2, "fontWeight": "bold", "color": "#33f033"},
                     "encoding": {"x": {"datum": 199.6, "type": "quantitative", "axis": null}, "y": {"datum": 14.6, "type": "quantitative", "axis": null}, "text": {"value": "-0.55 dB"}}},
                    {"mark": {"type": "text", "align": "right", "baseline": "middle", "fontSize": 6.5, "color": "#2fbf2f"},
                     "encoding": {"x": {"datum": 199.3, "type": "quantitative", "axis": null}, "y": {"datum": -8.5, "type": "quantitative", "axis": null}, "text": {"value": "TRIG LVL"}}},
                    {"mark": {"type": "text", "align": "left", "baseline": "middle", "fontSize": 12, "fontWeight": "bold", "color": "#ffffff"},
                     "encoding": {"x": {"datum": -9.1, "type": "quantitative", "axis": null}, "y": {"datum": -92.6, "type": "quantitative", "axis": null}, "text": {"value": "Center 433.920000 MHz"}}},
                    {"mark": {"type": "text", "align": "left", "baseline": "middle", "fontSize": 12, "fontWeight": "bold", "color": "#ffffff"},
                     "encoding": {"x": {"datum": -9.1, "type": "quantitative", "axis": null}, "y": {"datum": -96.9, "type": "quantitative", "axis": null}, "text": {"value": "Res BW 1.0 MHz"}}},
                    {"mark": {"type": "text", "align": "left", "baseline": "middle", "fontSize": 12, "fontWeight": "bold", "color": "#ffffff"},
                     "encoding": {"x": {"datum": 66.8, "type": "quantitative", "axis": null}, "y": {"datum": -96.9, "type": "quantitative", "axis": null}, "text": {"value": "#VBW 3.0 MHz"}}},
                    {"mark": {"type": "text", "align": "right", "baseline": "middle", "fontSize": 12, "fontWeight": "bold", "color": "#ffffff"},
                     "encoding": {"x": {"datum": 199.4, "type": "quantitative", "axis": null}, "y": {"datum": -92.6, "type": "quantitative", "axis": null}, "text": {"value": "Span 0 Hz"}}},
                    {"mark": {"type": "text", "align": "right", "baseline": "middle", "fontSize": 12, "fontWeight": "bold", "color": "#ffffff"},
                     "encoding": {"x": {"datum": 199.6, "type": "quantitative", "axis": null}, "y": {"datum": -96.9, "type": "quantitative", "axis": null}, "text": {"value": "Sweep  200.0 ms (1001 pts)"}}}
                  ]
                }
              ]
            }
          ]
        },
        {
          "spacing": 0,
          "bounds": "flush",
          "vconcat": [
            {
              "width": 95, "height": 26,
              "view": {"fill": "#24507e"},
              "data": {"values": [{}]},
              "mark": {"type": "text", "align": "center", "baseline": "middle", "fontSize": 10.5, "color": "#ffffff"},
              "encoding": {"text": {"value": "Frequency"}}
            },
            {
              "width": 95, "height": 417,
              "view": {"fill": "#2c5f96"},
              "layer": [
                {"data": {"name": "keys"}, "mark": {"type": "rect"},
                 "encoding": {"y": {"field": "key", "type": "nominal", "sort": null, "scale": {"type": "band", "domain": ["Auto Tune", "Center Freq", "Start Freq", "Stop Freq", "CF Step", "Freq Offset", "Scale Type"], "paddingInner": 0.1767, "paddingOuter": 0.1647, "align": 0}, "axis": null},
                              "fill": {"condition": {"test": "datum.key == 'Center Freq'", "value": {"gradient": "linear", "x1": 0, "y1": 0, "x2": 0, "y2": 1, "stops": [{"offset": 0, "color": "#f3faff"}, {"offset": 0.1, "color": "#ddeff9"}, {"offset": 0.6, "color": "#cfe6f4"}, {"offset": 1, "color": "#b3d5ec"}]}},
                                       "value": {"gradient": "linear", "x1": 0, "y1": 0, "x2": 0, "y2": 1, "stops": [{"offset": 0, "color": "#d4e9f7"}, {"offset": 0.1, "color": "#b6d8ef"}, {"offset": 0.6, "color": "#a3cbe6"}, {"offset": 1, "color": "#88b6da"}]}}}},
                {"data": {"name": "menuText"}, "transform": [{"filter": "datum.kind == 'title'"}],
                 "mark": {"type": "text", "align": "right", "baseline": "middle", "fontSize": 11, "fontWeight": "bold", "color": "#111111"},
                 "encoding": {"y": {"field": "key", "type": "nominal", "axis": null},
                              "yOffset": {"field": "line", "type": "nominal", "scale": {"type": "point", "domain": ["1", "2", "3", "4", "5", "6", "7", "8", "9", "10", "11"], "padding": 1}},
                              "x": {"field": "side", "type": "nominal", "scale": {"type": "point", "domain": ["left", "right"], "padding": 0.034}, "axis": null},
                              "text": {"field": "txt"}}},
                {"data": {"name": "menuText"}, "transform": [{"filter": "datum.kind == 'value' && datum.side == 'right'"}],
                 "mark": {"type": "text", "align": "right", "baseline": "middle", "fontSize": 9.7, "color": "#1a1a1a"},
                 "encoding": {"y": {"field": "key", "type": "nominal", "axis": null},
                              "yOffset": {"field": "line", "type": "nominal"},
                              "x": {"field": "side", "type": "nominal", "axis": null},
                              "text": {"field": "txt"}}},
                {"data": {"name": "menuText"}, "transform": [{"filter": "datum.kind == 'value' && datum.side == 'left'"}],
                 "mark": {"type": "text", "align": "left", "baseline": "middle", "fontSize": 9.7, "color": "#1a1a1a"},
                 "encoding": {"y": {"field": "key", "type": "nominal", "axis": null},
                              "yOffset": {"field": "line", "type": "nominal"},
                              "x": {"field": "side", "type": "nominal", "axis": null},
                              "text": {"field": "txt"}}}
              ]
            }
          ]
        }
      ]
    },
    {
      "width": 636, "height": 18,
      "view": {"fill": "#e4e4e4"},
      "data": {"values": [{}]},
      "layer": [
        {"mark": {"type": "text", "align": "left", "baseline": "middle", "fontSize": 6, "color": "#666666"},
         "encoding": {"x": {"datum": 4, "type": "quantitative", "scale": {"domain": [0, 636]},
                            "axis": {"values": [25, 407, 438], "grid": true, "gridColor": "#b0b0b0", "labels": false, "ticks": false, "domain": false, "title": null}},
                      "y": {"datum": 7.5, "type": "quantitative", "scale": {"domain": [0, 18], "reverse": true}, "axis": null}, "text": {"value": "MSG"}}},
        {"mark": {"type": "text", "align": "left", "baseline": "middle", "fontSize": 6, "color": "#666666"},
         "encoding": {"x": {"datum": 410, "type": "quantitative", "axis": null}, "y": {"datum": 8, "type": "quantitative", "axis": null}, "text": {"value": "STATUS"}}}
      ]
    }
  ]
}
